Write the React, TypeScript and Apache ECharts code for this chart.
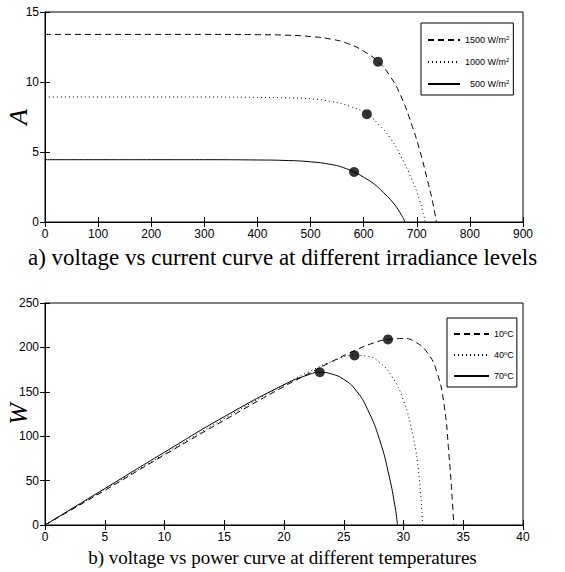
import React, { useEffect, useRef } from "react";
import * as echarts from "echarts";

// ---- Data ----
// Top: current (A) vs voltage (V) at different irradiance levels
const ivNames = ["1500 W/m{sup|2}", "1000 W/m{sup|2}", "{q|500 W/m}{sup|2}"];
const iv1500: [number, number][] = [
  [0, 13.4], [100, 13.4], [200, 13.4], [300, 13.4], [400, 13.38], [450, 13.35], [500, 13.25],
  [540, 13.05], [570, 12.75], [600, 12.2], [627, 11.45], [650, 10.4], [670, 9.0], [690, 7.0],
  [705, 5.2], [720, 3.0], [730, 1.4], [737, 0],
];
const iv1000: [number, number][] = [
  [0, 8.93], [100, 8.93], [200, 8.93], [300, 8.93], [400, 8.9], [450, 8.87], [500, 8.8],
  [540, 8.6], [575, 8.25], [606, 7.7], [630, 6.9], [650, 6.0], [670, 4.7], [690, 3.1],
  [705, 1.6], [716, 0],
];
const iv500: [number, number][] = [
  [0, 4.45], [100, 4.45], [200, 4.45], [300, 4.45], [400, 4.43], [450, 4.4], [500, 4.3],
  [540, 4.1], [562, 3.88], [582, 3.57], [600, 3.2], [620, 2.7], [640, 2.0], [655, 1.4],
  [668, 0.7], [678, 0],
];
const ivMpp: [number, number][] = [[627, 11.45], [606, 7.7], [582, 3.57]];

// Bottom: power (W) vs voltage (V) at different temperatures
const pvNames = ["10{sup|o}C", "40{sup|o}C", "70{sup|o}C"];
const pv10: [number, number][] = [
  [0, 0], [5, 39], [10, 79], [15, 118], [20, 156], [22, 170], [24, 184], [26, 197],
  [27.5, 205], [28.7, 209], [30, 210], [31, 206], [32, 194], [32.8, 172], [33.4, 135],
  [33.8, 80], [34.1, 25], [34.2, 0],
];
const pv40: [number, number][] = [
  [0, 0], [5, 40], [10, 80], [15, 120], [20, 158], [22, 172], [24, 184], [25.9, 191],
  [27, 190], [28, 183], [29, 168], [30, 140], [30.8, 100], [31.3, 55], [31.6, 0],
];
const pv70: [number, number][] = [
  [0, 0], [5, 41], [10, 82], [15, 122], [20, 158], [22, 169], [23, 172], [24, 170],
  [25, 164], [26, 152], [27, 130], [28, 96], [28.8, 55], [29.3, 20], [29.5, 0],
];
const pvMpp: [number, number][] = [[28.7, 209], [25.9, 191], [23, 172]];

const xTop = { min: 0, max: 900, interval: 100 };
const yTop = { min: 0, max: 15, interval: 5 };
const xBot = { min: 0, max: 40, interval: 5 };
const yBot = { min: 0, max: 250, interval: 50 };
const yNames = ["A", "W"];
const titles = [
  "a) voltage vs current curve at different irradiance levels",
  "b) voltage vs power curve at different temperatures",
];

const tickFont = "'Liberation Sans Narrow', 'Liberation Sans', Arial, sans-serif";
const serif = "'Liberation Serif', 'DejaVu Serif', serif";

function axisCommon(showLabel: boolean) {
  return {
    axisLine: { show: true, lineStyle: { color: "#000", width: 1 } },
    axisTick: { show: true, inside: true, length: 5, lineStyle: { color: "#000" } },
    axisLabel: { show: showLabel, color: "#000", fontFamily: tickFont, fontSize: 12, margin: 6 },
    splitLine: { show: false },
  };
}

export default function App() {
  const ref = useRef<HTMLDivElement>(null);
  useEffect(() => {
    if (!ref.current) return;
    const chart = echarts.init(ref.current, undefined, { renderer: "svg" });
    const lineBase = { type: "line", symbol: "none", smooth: true, silent: true };
    const styles = [
      { color: "#000", width: 1, type: [6, 4] },
      { color: "#000", width: 1, type: [1, 3] },
      { color: "#000", width: 1, type: "solid" },
    ];
    const legendText = {
      fontFamily: tickFont, fontSize: 9, color: "#000", lineHeight: 10,
      rich: {
        q: { fontFamily: tickFont, fontSize: 9, lineHeight: 10, padding: [0, 0, 0, 5] },
        sup: { fontSize: 6, verticalAlign: "top", padding: [0, 0, 5, 0], fontFamily: tickFont, lineHeight: 10 },
      },
    };
    const nameText = (text: string, y: number) => ({
      type: "text", x: 18, y, rotation: Math.PI / 2, silent: true,
      style: {
        text, fontFamily: serif, fontStyle: "italic", fontSize: 26, fill: "#000",
        textAlign: "center", textVerticalAlign: "middle",
      },
    });
    chart.setOption({
      animation: false,
      backgroundColor: "#fff",
      title: [
        { text: titles[0], left: "center", top: 241,
          textStyle: { fontFamily: serif, fontWeight: "normal", fontSize: 23, color: "#000" } },
        { text: titles[1], left: "center", top: 543,
          textStyle: { fontFamily: serif, fontWeight: "normal", fontSize: 19, color: "#000" } },
      ],
      graphic: [nameText(yNames[0], 117), nameText(yNames[1], 414)],
      grid: [
        { left: 45, top: 12, width: 478, height: 210, show: true, borderColor: "#000", borderWidth: 1,
          containLabel: false, outerBoundsMode: "none" },
        { left: 45, top: 303, width: 478, height: 222, show: true, borderColor: "#000", borderWidth: 1,
          containLabel: false, outerBoundsMode: "none" },
      ],
      legend: [
        {
          data: ivNames, orient: "vertical", left: 421, top: 23, itemWidth: 32, itemHeight: 10,
          itemGap: 11, padding: [12, 4, 5, 6], borderColor: "#000", borderWidth: 1,
          backgroundColor: "#fff", textStyle: legendText, align: "left",
          itemStyle: { opacity: 0 },
        },
        {
          data: pvNames, orient: "vertical", left: 447, top: 318, itemWidth: 35, itemHeight: 10,
          itemGap: 10, padding: [11, 3, 5, 6], borderColor: "#000", borderWidth: 1,
          backgroundColor: "#fff", textStyle: legendText, align: "left",
          itemStyle: { opacity: 0 },
        },
      ],
      xAxis: [
        { type: "value", gridIndex: 0, position: "bottom", ...xTop, ...axisCommon(true) },
        { type: "value", gridIndex: 0, position: "top", ...xTop, ...axisCommon(false) },
        { type: "value", gridIndex: 1, position: "bottom", ...xBot, ...axisCommon(true) },
        { type: "value", gridIndex: 1, position: "top", ...xBot, ...axisCommon(false) },
      ],
      yAxis: [
        { type: "value", gridIndex: 0, position: "left", ...yTop, ...axisCommon(true) },
        { type: "value", gridIndex: 0, position: "right", ...yTop, ...axisCommon(false) },
        { type: "value", gridIndex: 1, position: "left", ...yBot, ...axisCommon(true) },
        { type: "value", gridIndex: 1, position: "right", ...yBot, ...axisCommon(false) },
      ],
      series: [
        { ...lineBase, name: ivNames[0], xAxisIndex: 0, yAxisIndex: 0, data: iv1500, lineStyle: styles[0], itemStyle: { color: "#000" } },
        { ...lineBase, name: ivNames[1], xAxisIndex: 0, yAxisIndex: 0, data: iv1000, lineStyle: styles[1], itemStyle: { color: "#000" } },
        { ...lineBase, name: ivNames[2], xAxisIndex: 0, yAxisIndex: 0, data: iv500, lineStyle: styles[2], itemStyle: { color: "#000" } },
        { type: "scatter", xAxisIndex: 0, yAxisIndex: 0, data: ivMpp, symbolSize: 10, itemStyle: { color: "#000" }, silent: true },
        { ...lineBase, name: pvNames[0], xAxisIndex: 2, yAxisIndex: 2, data: pv10, lineStyle: styles[0], itemStyle: { color: "#000" } },
        { ...lineBase, name: pvNames[1], xAxisIndex: 2, yAxisIndex: 2, data: pv40, lineStyle: styles[1], itemStyle: { color: "#000" } },
        { ...lineBase, name: pvNames[2], xAxisIndex: 2, yAxisIndex: 2, data: pv70, lineStyle: styles[2], itemStyle: { color: "#000" } },
        { type: "scatter", xAxisIndex: 2, yAxisIndex: 2, data: pvMpp, symbolSize: 10, itemStyle: { color: "#000" }, silent: true },
      ],
    });
    return () => chart.dispose();
  }, []);
  return <div ref={ref} style={{ width: 565, height: 572, position: "absolute", left: 0, top: 0 }} />;
}
